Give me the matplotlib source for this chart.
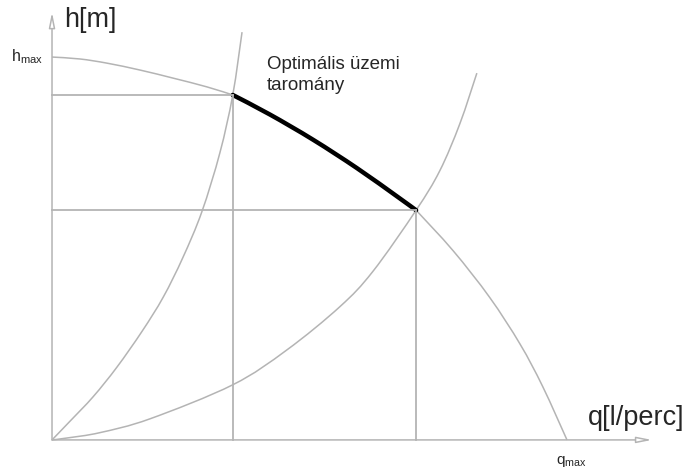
import numpy as np
import matplotlib
matplotlib.use("Agg")
import matplotlib.pyplot as plt
from matplotlib.path import Path
from matplotlib.patches import PathPatch

# Pump curve H(Q), normalised so that q_max = 100 and h_max = 100
pump_q = [0, 5.4, 10.7, 17.1, 23.5, 30.1, 35.1, 42.3, 50.7, 59.2, 67.0, 70.7, 77.9, 85.0, 90.9, 95.3, 100]
pump_h = [100, 99.5, 98.4, 96.6, 94.5, 92.2, 90.1, 85.0, 78.4, 71.0, 63.6, 60.0, 49.4, 37.2, 25.0, 13.9, 0]

# Steep system curve
sys1_q = [0, 3.5, 8.0, 12.6, 17.5, 21.6, 25.4, 29.1, 32.6, 35.1, 36.9]
sys1_h = [0, 4.9, 11.3, 19.0, 28.4, 37.3, 47.6, 59.6, 75.0, 90.1, 106.5]

# Flat system curve
sys2_q = [0, 2.9, 9.3, 19.0, 35.1, 45.6, 55.9, 62.3, 70.7, 75.3, 79.2, 82.5]
sys2_h = [0, 0.5, 1.9, 5.5, 14.4, 23.5, 34.8, 44.0, 60.0, 70.3, 82.6, 95.8]

# Operating points (ends of the optimal range)
op_q = [35.1, 70.7]
op_h = [90.1, 60.0]

GRAY = '#b4b4b4'
TEXT = '#262626'
plt.rcParams['font.family'] = ['Liberation Sans', 'DejaVu Sans']
plt.rcParams['mathtext.fontset'] = 'custom'
plt.rcParams['mathtext.rm'] = 'Liberation Sans'


def smooth_path(qs, hs):
    """Bezier path through the read points (Catmull-Rom tangents)"""
    p = np.column_stack([qs, hs]).astype(float)
    n = len(p)
    verts = [p[0]]
    codes = [Path.MOVETO]
    for i in range(n - 1):
        p0 = p[max(i - 1, 0)]
        p1 = p[i]
        p2 = p[i + 1]
        p3 = p[min(i + 2, n - 1)]
        verts += [p1 + (p2 - p0) / 6, p2 - (p3 - p1) / 6, p2]
        codes += [Path.CURVE4] * 3
    return Path(verts, codes)


fig = plt.figure(figsize=(6.88, 4.74), dpi=100)
ax = fig.add_axes([0, 0, 1, 1])
ax.set_xlim(-10.1, 123.5)
ax.set_ylim(-8.9, 114.9)
ax.axis('off')

# axes with open arrow heads
arrow = dict(arrowstyle='-|>,head_length=0.9,head_width=0.18', fc='white', ec=GRAY, lw=1.1,
             shrinkA=0, shrinkB=0)
ax.annotate('', xy=(116.5, 0), xytext=(0, 0), arrowprops=arrow)
ax.annotate('', xy=(0, 111.7), xytext=(0, 0), arrowprops=arrow)

# guide lines to the operating points
for q, h in zip(op_q, op_h):
    ax.plot([0, q], [h, h], color=GRAY, lw=1.3)
    ax.plot([q, q], [0, h], color=GRAY, lw=1.3)

ax.add_patch(PathPatch(smooth_path(sys1_q, sys1_h), fill=False, ec=GRAY, lw=1.1))
ax.add_patch(PathPatch(smooth_path(sys2_q, sys2_h), fill=False, ec=GRAY, lw=1.1))

# pump curve in three pieces, the middle one is the optimal range
i1 = pump_q.index(op_q[0])
i2 = pump_q.index(op_q[1])
ax.add_patch(PathPatch(smooth_path(pump_q[:i1 + 1], pump_h[:i1 + 1]), fill=False, ec=GRAY, lw=1.1))
ax.add_patch(PathPatch(smooth_path(pump_q[i2:], pump_h[i2:]), fill=False, ec=GRAY, lw=1.1))
ax.add_patch(PathPatch(smooth_path(pump_q[i1:i2 + 1], pump_h[i1:i2 + 1]), fill=False,
                       ec='black', lw=3.2, capstyle='round'))

ax.text(2.4, 109.7, 'h[m]', fontsize=19.5, color=TEXT, ha='left', va='center')
ax.text(-1.8, 100, r'h$_{\mathrm{max}}$', fontsize=11.5, color=TEXT, ha='right', va='center')
ax.text(104.0, 5.8, 'q[l/perc]', fontsize=19.5, color=TEXT, ha='left', va='center')
ax.text(100.8, -5.7, r'q$_{\mathrm{max}}$', fontsize=11, color=TEXT, ha='center', va='center')
ax.text(41.7, 100.3, 'Optimális üzemi\ntaromány', fontsize=13.5, color=TEXT,
        ha='left', va='top', linespacing=1.3)

fig.savefig('out.png', dpi=100)
